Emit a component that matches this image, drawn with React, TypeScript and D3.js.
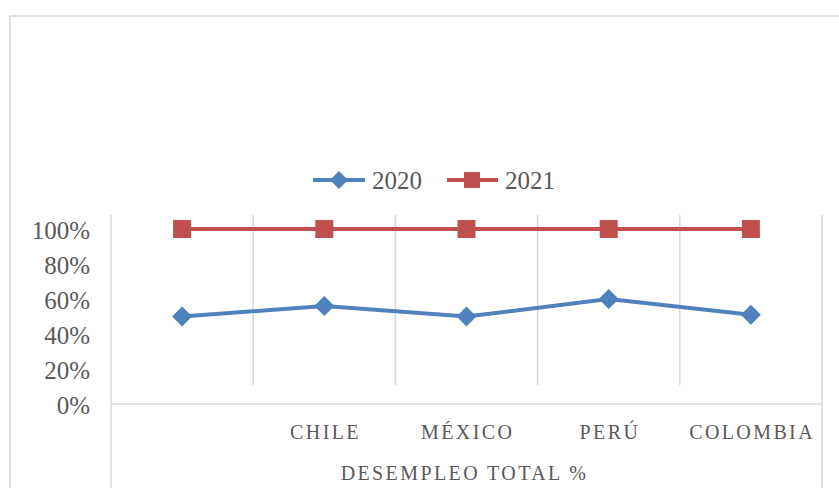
import * as d3 from 'd3';

const categories = ['', 'CHILE', 'MÉXICO', 'PERÚ', 'COLOMBIA'];
const values2020 = [0.5, 0.56, 0.5, 0.6, 0.51];
const values2021 = [1, 1, 1, 1, 1];
const yTicks = [0, 0.2, 0.4, 0.6, 0.8, 1];
const seriesNames = ['2020', '2021'];

const W = 839;
const H = 488;
const font = '"Liberation Serif", serif';
const textColor = '#595959';
const gridColor = '#d9d9d9';
const blue = '#4f81bd';
const red = '#c0504d';

const App = () => {
  const plotLeft = 111;
  const plotRight = 822;
  const plotTop = 215;
  const x = d3.scaleBand<string>().domain(categories).range([plotLeft, plotRight]);
  const y = d3.scaleLinear().domain([0, 1]).range([404, 229]);
  const fmt = d3.format('.0%');

  const line = d3
    .line<number>()
    .x((_, i) => (x(categories[i]) ?? 0) + x.bandwidth() / 2)
    .y((d) => y(d));

  const diamond = (cx: number, cy: number, r: number) =>
    `M${cx},${cy - r}L${cx + r},${cy}L${cx},${cy + r}L${cx - r},${cy}Z`;

  const bounds = categories.slice(1).map((c) => x(c) ?? 0);

  return (
    <svg
      width={W}
      height={H}
      style={{ position: 'absolute', left: 0, top: 0, background: '#fff' }}
    >
      {/* outer chart border */}
      <path d={`M10,${H}V16H${W}`} fill="none" stroke={gridColor} strokeWidth={1.5} />

      {/* legend */}
      <g fontFamily={font} fontSize={25} fill={textColor}>
        <line x1={313} x2={365} y1={180} y2={180} stroke={blue} strokeWidth={4} />
        <path d={diamond(339, 180, 9)} fill={blue} />
        <text x={372} y={189}>{seriesNames[0]}</text>
        <line x1={447} x2={498} y1={180} y2={180} stroke={red} strokeWidth={4} />
        <rect x={464} y={172} width={16} height={16} fill={red} />
        <text x={505} y={189}>{seriesNames[1]}</text>
      </g>

      {/* vertical gridlines */}
      {bounds.map((b) => (
        <line key={b} x1={b} x2={b} y1={plotTop} y2={385} stroke={gridColor} strokeWidth={1.5} />
      ))}
      <line x1={plotLeft} x2={plotLeft} y1={plotTop} y2={H} stroke={gridColor} strokeWidth={1.5} />
      <line x1={plotRight} x2={plotRight} y1={plotTop} y2={H} stroke={gridColor} strokeWidth={1.5} />
      <line x1={plotLeft} x2={plotRight} y1={y(0)} y2={y(0)} stroke={gridColor} strokeWidth={1.5} />

      {/* y ticks */}
      <g fontFamily={font} fontSize={25} fill={textColor} textAnchor="end">
        {yTicks.map((t) => (
          <text key={t} x={90} y={y(t) + 10}>
            {fmt(t)}
          </text>
        ))}
      </g>

      {/* category labels */}
      <g fontFamily={font} fontSize={20} fill={textColor} textAnchor="middle" letterSpacing={2.4}>
        {categories.map((c) => (
          <text key={c} x={(x(c) ?? 0) + x.bandwidth() / 2 + 1.2} y={439}>
            {c}
          </text>
        ))}
        <text x={(plotLeft + plotRight) / 2 - 2} y={480}>
          DESEMPLEO TOTAL %
        </text>
      </g>

      {/* series */}
      <path d={line(values2021) ?? ''} fill="none" stroke={red} strokeWidth={4} />
      {values2021.map((v, i) => {
        const cx = (x(categories[i]) ?? 0) + x.bandwidth() / 2;
        return <rect key={i} x={cx - 9} y={y(v) - 9} width={18} height={18} fill={red} />;
      })}
      <path d={line(values2020) ?? ''} fill="none" stroke={blue} strokeWidth={4} />
      {values2020.map((v, i) => {
        const cx = (x(categories[i]) ?? 0) + x.bandwidth() / 2;
        return <path key={i} d={diamond(cx, y(v), 10)} fill={blue} />;
      })}
    </svg>
  );
};

export default App;
